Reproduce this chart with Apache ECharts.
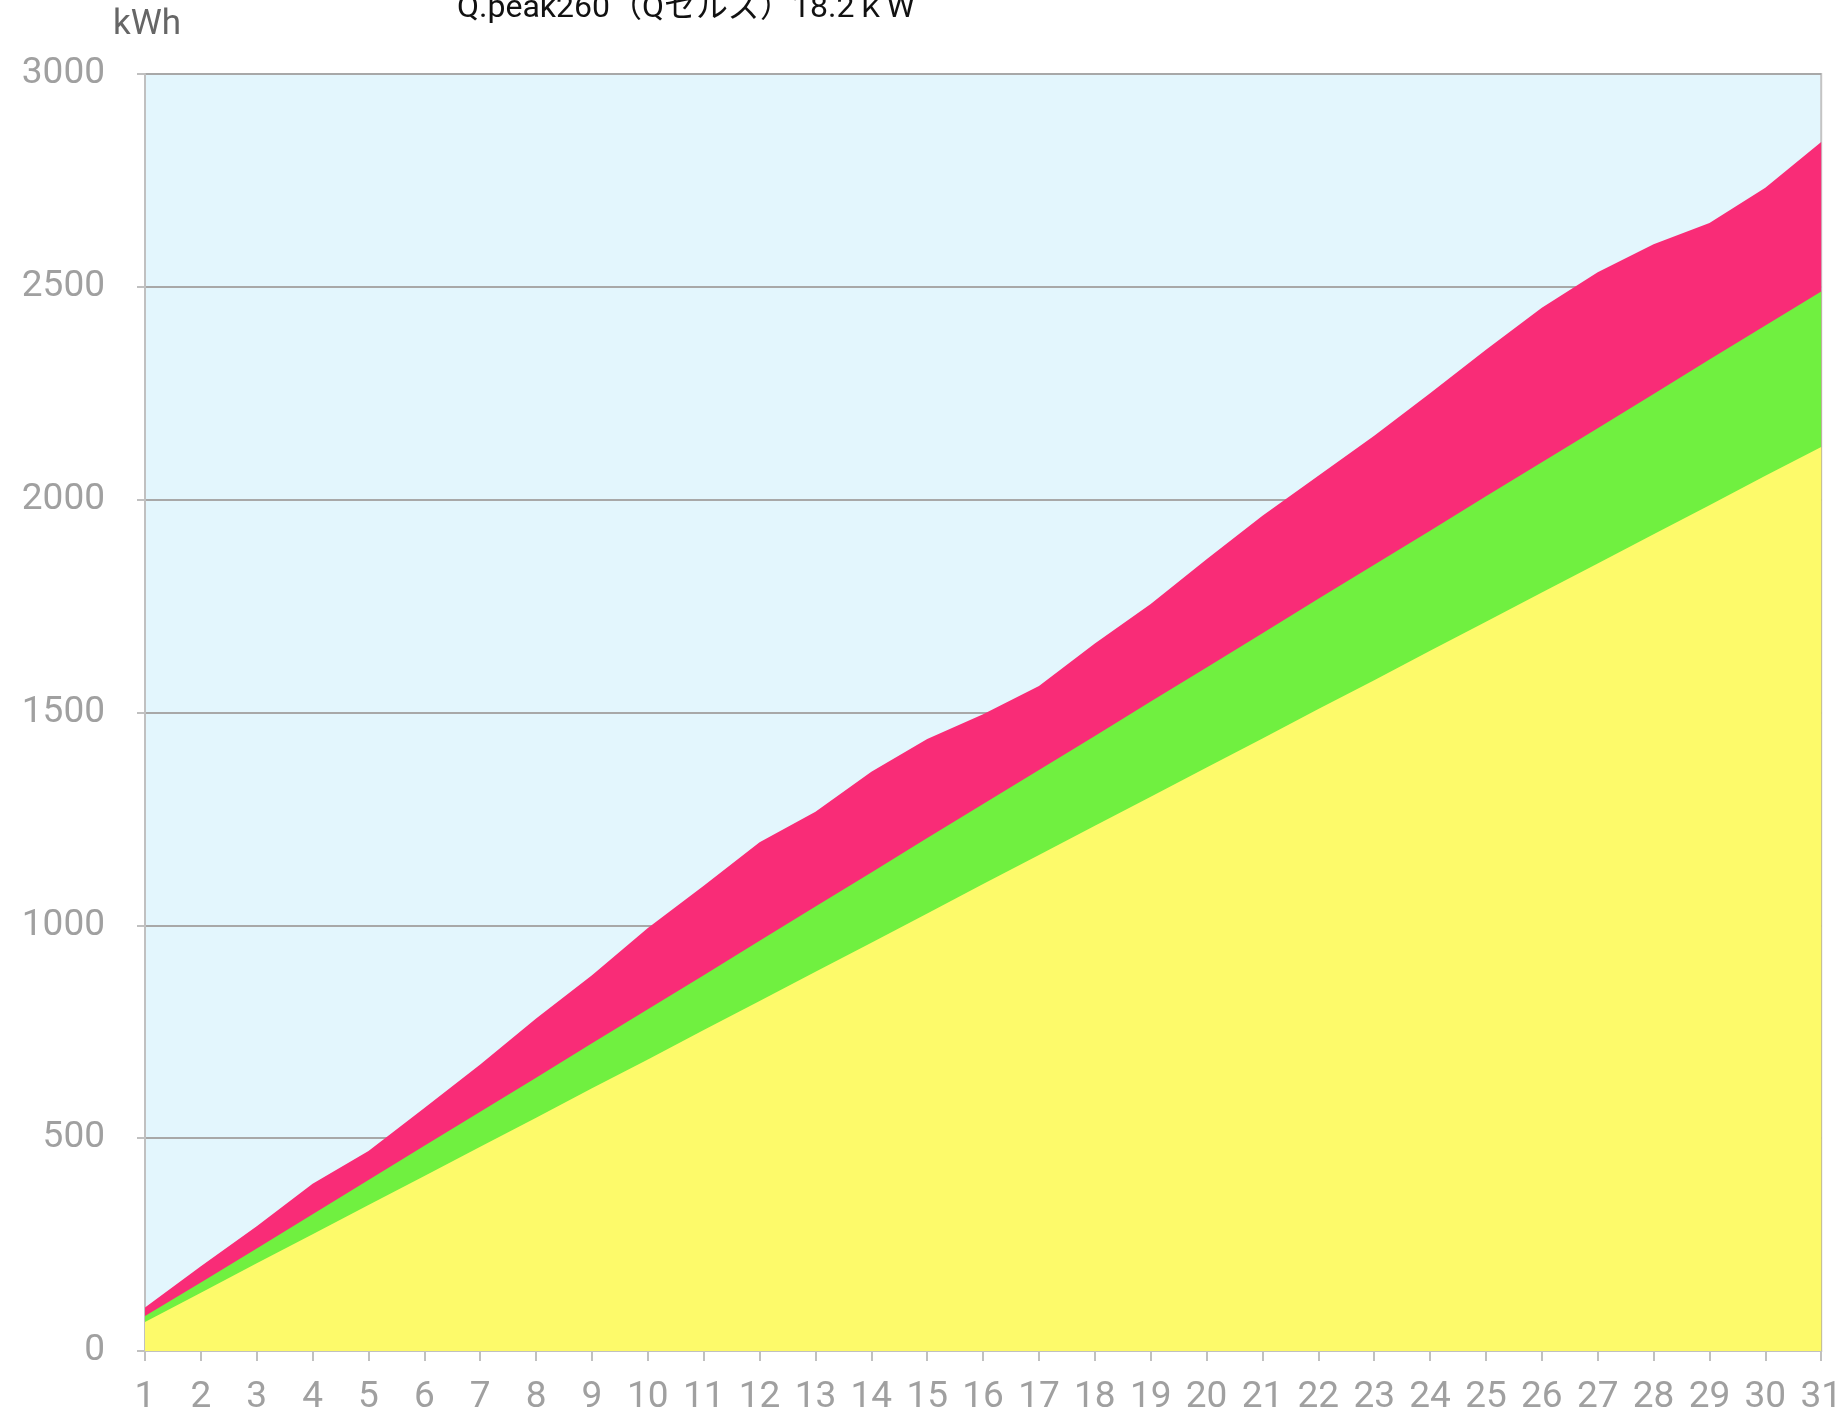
<!DOCTYPE html>
<html>
<head>
<meta charset="utf-8">
<script src="https://cdn.jsdelivr.net/npm/echarts@6/dist/echarts.min.js"></script>
<style>
html,body{margin:0;padding:0;background:#fff;}
#chart{width:1845px;height:1416px;}
</style>
</head>
<body>
<div id="chart"></div>
<script>
const days = ['1','2','3','4','5','6','7','8','9','10','11','12','13','14','15','16','17','18','19','20','21','22','23','24','25','26','27','28','29','30','31'];
const actual = [102,199,293,393,470,571,673,781,883,994,1093,1195,1267,1361,1438,1496,1562,1662,1755,1860,1962,2056,2150,2250,2352,2451,2534,2600,2650,2733,2840];
const upper = [82,161,241,321,402,482,562,642,723,803,883,964,1044,1124,1205,1285,1365,1445,1526,1606,1686,1767,1847,1927,2008,2088,2168,2248,2329,2409,2489];
const lower = [68,137,206,274,343,411,480,548,617,685,754,822,891,959,1028,1097,1165,1234,1302,1371,1439,1508,1576,1645,1713,1782,1850,1919,1987,2056,2124];
const yTicks = [0,500,1000,1500,2000,2500,3000];

const chart = echarts.init(document.getElementById('chart'));
const font = 'Roboto, "Noto Sans CJK JP", sans-serif';
function area(name, data, color, z){
  return {name, type:'line', data, z, symbol:'none', smooth:false,
    lineStyle:{width:0}, areaStyle:{color, opacity:1}, itemStyle:{color}};
}
chart.setOption({
  animation:false,
  title:{text:'Q.peak260（Qセルズ）18.2ｋW', left:452, top:-12,
    textStyle:{fontSize:32, fontWeight:'normal', color:'#111', fontFamily:font}},
  grid:{left:145, right:23, top:74, bottom:64, show:true, backgroundColor:'#e3f6fd', borderColor:'#c4c4c4', borderWidth:2},
  xAxis:{type:'category', data:days, boundaryGap:false,
    axisLine:{lineStyle:{color:'#c0c0c0', width:2}},
    axisTick:{show:true, interval:0, length:10, lineStyle:{color:'#c0c0c0', width:2}},
    axisLabel:{interval:0, color:'#a0a0a0', fontSize:37, margin:28, fontFamily:font},
    splitLine:{show:false}},
  yAxis:{type:'value', min:yTicks[0], max:yTicks[yTicks.length-1], interval:500,
    name:'kWh', nameLocation:'end', nameGap:49,
    nameTextStyle:{color:'#666', fontSize:35, fontFamily:font, align:'left', verticalAlign:'middle', padding:[0,0,0,-32]},
    axisLine:{show:true, lineStyle:{color:'#c0c0c0', width:2}},
    axisTick:{show:true, length:8, lineStyle:{color:'#c0c0c0', width:2}},
    axisLabel:{color:'#a0a0a0', fontSize:37, margin:40, fontFamily:font, formatter:function(v){return String(v);}},
    splitLine:{show:true, lineStyle:{color:'#a8a8a8', width:2}}},
  series:[
    area('actual', actual, '#f92c77', 1),
    area('upper', upper, '#70f040', 2),
    area('lower', lower, '#fdfa6a', 3)
  ]
});
</script>
</body>
</html>
